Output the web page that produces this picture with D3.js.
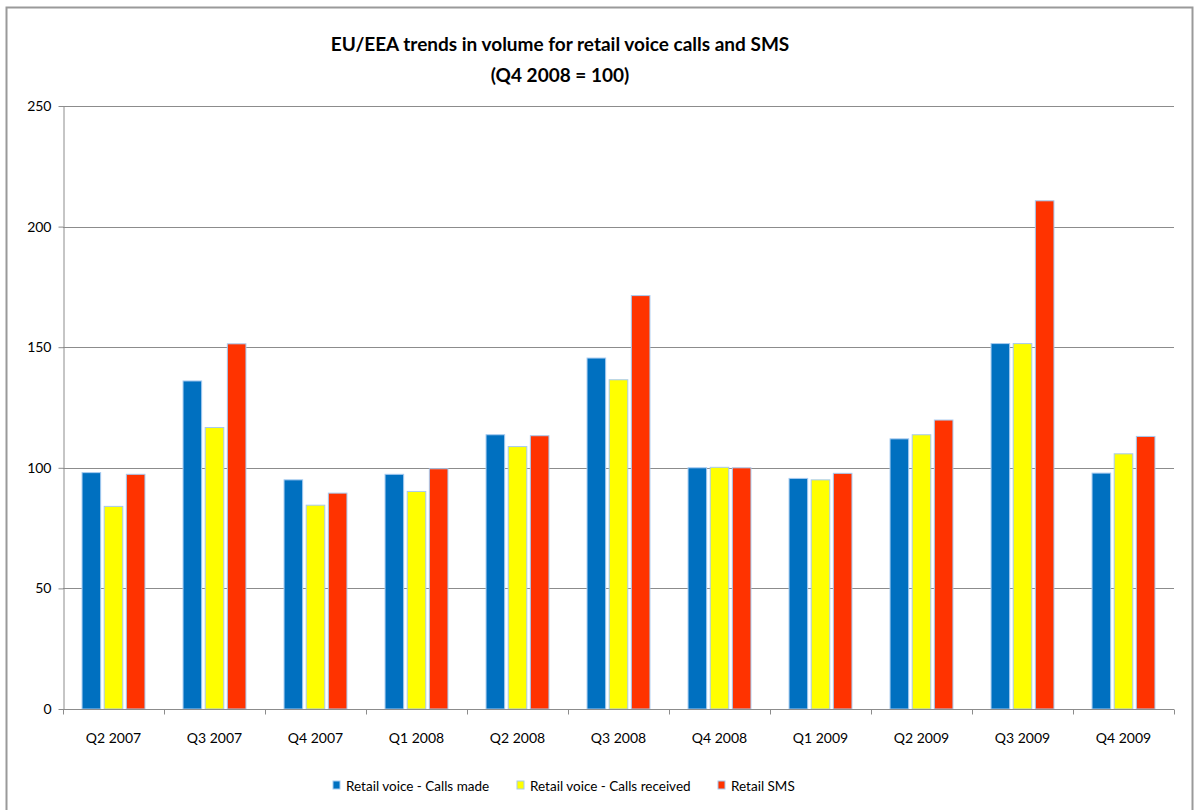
<!DOCTYPE html>
<html>
<head>
<meta charset="utf-8">
<script src="https://cdn.jsdelivr.net/npm/d3@7"></script>
<style>
body { margin: 0; background: #fff; overflow: hidden; }
svg { display: block; }
svg text { font-family: Lato, "Open Sans", sans-serif; fill: #000; }
</style>
</head>
<body>
<div id="chart"></div>
<script>
// quarters and series (index, Q4 2008 = 100)
const quarters = ['Q2 2007','Q3 2007','Q4 2007','Q1 2008','Q2 2008','Q3 2008',
  'Q4 2008','Q1 2009','Q2 2009','Q3 2009','Q4 2009'];
const callsMade     = [98, 136, 95, 97.3, 113.7, 145.5, 100, 95.6, 112, 151.5, 97.8];
const callsReceived = [84, 116.7, 84.5, 90.2, 108.8, 136.5, 100.2, 95, 113.7, 151.5, 105.8];
const sms           = [97.3, 151.4, 89.5, 99.6, 113.3, 171.4, 100, 97.7, 119.8, 210.7, 113];
const seriesNames = ['Retail voice - Calls made','Retail voice - Calls received','Retail SMS'];
const seriesColors = ['#0070c0','#ffff00','#ff3300'];
const yTicks = [0, 50, 100, 150, 200, 250];

const width = 1199, height = 810;
const plot = {left: 63, right: 1174, top: 106, bottom: 709};

const root = d3.select('#chart').append('svg')
  .attr('width', width).attr('height', height);

// outer frame
root.append('rect')
  .attr('x', 6.5).attr('y', 7.5)
  .attr('width', 1186).attr('height', 820)
  .attr('fill', '#fff').attr('stroke', '#9a9a9a').attr('stroke-width', 2);

const x = d3.scaleBand().domain(quarters).range([plot.left, plot.right]);
const y = d3.scaleLinear().domain([0, 250]).range([plot.bottom, plot.top]);
const xs = d3.scaleBand().domain(d3.range(3))
  .range([0, x.bandwidth()]).paddingOuter(0.86).paddingInner(0.16);

// gridlines
root.append('g').selectAll('line').data(yTicks.slice(1)).enter()
  .append('line')
  .attr('x1', plot.left).attr('x2', plot.right)
  .attr('y1', d => Math.round(y(d)) + 0.5).attr('y2', d => Math.round(y(d)) + 0.5)
  .attr('stroke', '#8c8c8c').attr('stroke-width', 1);

// bars
const data = [callsMade, callsReceived, sms];
const groups = root.append('g').selectAll('g').data(quarters).enter()
  .append('g').attr('transform', q => 'translate(' + x(q) + ',0)');
groups.selectAll('rect').data((q, i) => data.map((s, k) => ({k: k, v: s[i]})))
  .enter().append('rect')
  .attr('x', d => xs(d.k))
  .attr('width', xs.bandwidth())
  .attr('y', d => y(d.v))
  .attr('height', d => y(0) - y(d.v))
  .attr('fill', d => seriesColors[d.k])
  .attr('stroke', '#a6caf0').attr('stroke-width', 1);

// y axis
const yAxis = d3.axisLeft(y).tickValues(yTicks).tickSize(5).tickPadding(7).tickSizeOuter(0);
const gy = root.append('g').attr('transform', 'translate(' + (plot.left + 0.5) + ',0)').call(yAxis);
gy.attr('font-family', null).attr('font-size', null);
gy.select('.domain').attr('stroke', '#8c8c8c');
gy.selectAll('.tick line').attr('stroke', '#8c8c8c');
gy.selectAll('text').style('font-size', '14px');

// x axis
const gx = root.append('g').attr('transform', 'translate(0,' + (plot.bottom + 0.5) + ')');
gx.append('line').attr('x1', plot.left).attr('x2', plot.right).attr('stroke', '#8c8c8c');
gx.selectAll('line.tk').data(d3.range(quarters.length + 1)).enter()
  .append('line').attr('class', 'tk')
  .attr('x1', i => Math.round(plot.left + i * x.step()) + 0.5)
  .attr('x2', i => Math.round(plot.left + i * x.step()) + 0.5)
  .attr('y1', 0).attr('y2', 5).attr('stroke', '#8c8c8c');
gx.selectAll('text').data(quarters).enter().append('text')
  .attr('x', q => x(q) + x.bandwidth() / 2).attr('y', 33)
  .attr('text-anchor', 'middle').style('font-size', '14px')
  .text(q => q);

// title
const title = root.append('text').attr('text-anchor', 'middle')
  .style('font-weight', 'bold').style('font-size', '19px');
title.append('tspan').attr('x', 560).attr('y', 51).text('EU/EEA trends in volume for retail voice calls and SMS');
title.append('tspan').attr('x', 560).attr('y', 82).text('(Q4 2008 = 100)');

// legend
const legendX = [333, 517, 718];
const lg = root.append('g').selectAll('g').data(seriesNames).enter()
  .append('g').attr('transform', (d, i) => 'translate(' + legendX[i] + ',781)');
lg.append('rect').attr('width', 7).attr('height', 8)
  .attr('fill', (d, i) => seriesColors[i]).attr('stroke', '#a6caf0').attr('stroke-width', 1);
lg.append('text').attr('x', 13).attr('y', 9.5).style('font-size', '13.5px').text(d => d);
</script>
</body>
</html>
